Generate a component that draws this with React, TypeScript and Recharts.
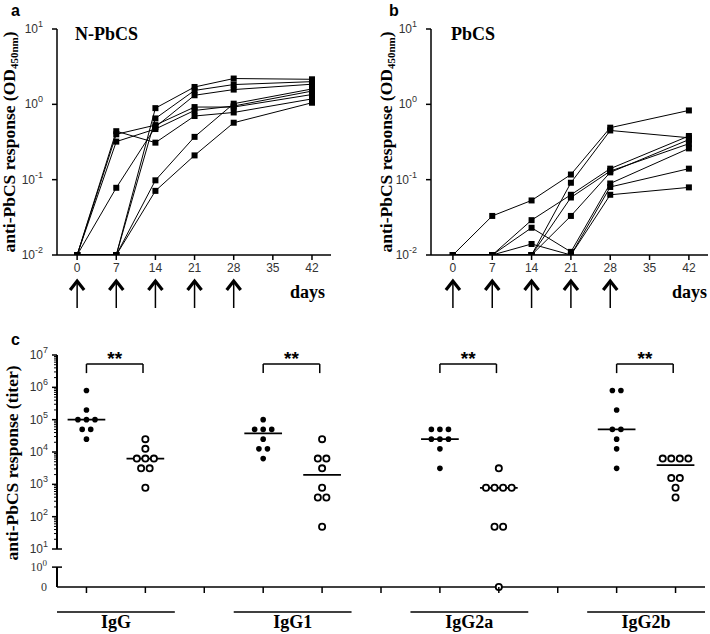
import React from 'react';
import { LineChart, Line, XAxis, YAxis, ScatterChart, Scatter, ReferenceLine } from 'recharts';

const days = [0, 7, 14, 21, 28, 42];
const dayTicks = [0, 7, 14, 21, 28, 35, 42];
const boostDays = [0, 7, 14, 21, 28];
const odTicks = [0.01, 0.1, 1, 10];

// a: mice immunized with N-PbCS, OD450 per bleed day
const npbcsMouse1 = [0.01, 0.44, 0.31, 0.7, 0.78, 1.18];
const npbcsMouse2 = [0.01, 0.4, 0.53, 0.92, 0.92, 1.35];
const npbcsMouse3 = [0.01, 0.32, 0.47, 0.83, 0.95, 1.5];
const npbcsMouse4 = [0.01, 0.078, 0.5, 1.32, 1.57, 1.85];
const npbcsMouse5 = [0.01, 0.01, 0.89, 1.7, 2.2, 2.15];
const npbcsMouse6 = [0.01, 0.01, 0.65, 1.53, 1.83, 2.0];
const npbcsMouse7 = [0.01, 0.01, 0.098, 0.37, 1.02, 1.6];
const npbcsMouse8 = [0.01, 0.01, 0.071, 0.21, 0.57, 1.05];

// b: mice immunized with PbCS
const pbcsMouse1 = [0.01, 0.033, 0.053, 0.117, 0.49, 0.83];
const pbcsMouse2 = [0.01, 0.01, 0.01, 0.091, 0.45, 0.36];
const pbcsMouse3 = [0.01, 0.01, 0.029, 0.063, 0.14, 0.38];
const pbcsMouse4 = [0.01, 0.01, 0.01, 0.058, 0.13, 0.3];
const pbcsMouse5 = [0.01, 0.01, 0.01, 0.033, 0.125, 0.34];
const pbcsMouse6 = [0.01, 0.01, 0.023, 0.011, 0.089, 0.26];
const pbcsMouse7 = [0.01, 0.01, 0.014, 0.01, 0.08, 0.14];
const pbcsMouse8 = [0.01, 0.01, 0.01, 0.01, 0.063, 0.079];

// c: end-point titers per isotype (filled = N-PbCS, open = PbCS)
const isotypes = ['IgG', 'IgG1', 'IgG2a', 'IgG2b'];
const igGNpbcs = [800000, 200000, 100000, 100000, 100000, 50000, 50000, 25000];
const igGPbcs = [25000, 12500, 6250, 6250, 6250, 3125, 3125, 781];
const igG1Npbcs = [100000, 50000, 50000, 50000, 25000, 12500, 12500, 6250];
const igG1Pbcs = [25000, 6250, 6250, 3125, 781, 390, 390, 49];
const igG2aNpbcs = [50000, 50000, 50000, 25000, 25000, 25000, 12500, 3125];
const igG2aPbcs = [3125, 781, 781, 781, 781, 49, 49, 0];
const igG2bNpbcs = [800000, 800000, 200000, 50000, 50000, 25000, 12500, 3125];
const igG2bPbcs = [6250, 6250, 6250, 6250, 1562, 1562, 781, 390];

const npbcsGroups = [igGNpbcs, igG1Npbcs, igG2aNpbcs, igG2bNpbcs];
const pbcsGroups = [igGPbcs, igG1Pbcs, igG2aPbcs, igG2bPbcs];

const npbcsMice = [npbcsMouse1, npbcsMouse2, npbcsMouse3, npbcsMouse4, npbcsMouse5, npbcsMouse6, npbcsMouse7, npbcsMouse8];
const pbcsMice = [pbcsMouse1, pbcsMouse2, pbcsMouse3, pbcsMouse4, pbcsMouse5, pbcsMouse6, pbcsMouse7, pbcsMouse8];

const toRows = (mice: number[][]) =>
  days.map((day, i) => {
    const row: any = { day };
    mice.forEach((m, k) => (row['m' + k] = m[i]));
    return row;
  });

const rowsA = toRows(npbcsMice);
const rowsB = toRows(pbcsMice);

// broken log axis for panel c: 10^1..10^7 log, then 10^0 and 0 below the break
const ZERO_T = -0.175;
const ONE_T = 0.44;
const toT = (v: number) => (v <= 0 ? ZERO_T : Math.log10(v));
const median = (vals: number[]) => {
  const s = [...vals].sort((a, b) => a - b);
  const n = s.length;
  return n % 2 ? s[(n - 1) / 2] : (s[n / 2 - 1] + s[n / 2]) / 2;
};

const SPREAD = 0.145;
const swarm = (vals: number[], center: number) => {
  const counts: Record<number, number> = {};
  vals.forEach((v) => (counts[v] = (counts[v] || 0) + 1));
  const seen: Record<number, number> = {};
  return vals.map((v) => {
    const i = seen[v] || 0;
    seen[v] = i + 1;
    return { x: center + (i - (counts[v] - 1) / 2) * SPREAD, t: toT(v) };
  });
};

const filledPts = npbcsGroups.flatMap((g, i) => swarm(g, i * 3));
const openPts = pbcsGroups.flatMap((g, i) => swarm(g, i * 3 + 1));

const majorT = [1, 2, 3, 4, 5, 6, 7];
const minorT: number[] = [];
for (let n = 1; n < 7; n++) for (let k = 2; k < 10; k++) minorT.push(n + Math.log10(k));
const titerTicks = [ZERO_T, ONE_T, ...majorT, ...minorT];
const catTicks = Array.from({ length: 11 }, (_, i) => i);

const BRACKET_T = 6.72;
const BRACKET_DROP = 0.28;
const UNIT_PX = 648 / 11;

const sans = 'Liberation Sans, Arial, sans-serif';
const serif = 'Liberation Serif, Times New Roman, serif';

const SquareDot = (props: any) => {
  const { cx, cy } = props;
  if (cx == null || cy == null) return <g />;
  return <rect x={cx - 3} y={cy - 3} width={6} height={6} fill="#000" />;
};

const PowTick = (props: any) => {
  const { x, y, payload } = props;
  const e = Math.round(Math.log10(payload.value));
  return (
    <g>
      <line x1={x - 5} x2={x} y1={y} y2={y} stroke="#000" strokeWidth={1.5} />
      <text x={x - 14} y={y + 4} textAnchor="end" fontSize={12} fill="#333" fontFamily={sans}>
        10<tspan dy={-6} fontSize={9}>{e}</tspan>
      </text>
    </g>
  );
};

const DayTick = (props: any) => {
  const { x, y, payload } = props;
  const boosted = boostDays.includes(payload.value);
  return (
    <g>
      <line x1={x} x2={x} y1={y} y2={y + 5} stroke="#000" strokeWidth={1.5} />
      <text x={x} y={y + 17} textAnchor="middle" fontSize={12} fill="#333" fontFamily={sans}>
        {payload.value}
      </text>
      {boosted && (
        <g stroke="#000" fill="none">
          <polyline points={`${x - 7},${y + 35} ${x},${y + 26} ${x + 7},${y + 35}`} strokeWidth={3.2} />
          <line x1={x} x2={x} y1={y + 27} y2={y + 53} strokeWidth={1.5} />
        </g>
      )}
    </g>
  );
};

const TiterTick = (props: any) => {
  const { x, y, payload } = props;
  const t = payload.value;
  if (t === ZERO_T || t === ONE_T) {
    return (
      <g>
        {t === ONE_T && <line x1={x - 5} x2={x + 5} y1={y} y2={y} stroke="#000" strokeWidth={1.5} />}
        <text x={x - 10} y={y + 4} textAnchor="end" fontSize={12} fill="#333" fontFamily={serif}>
          {t === ZERO_T ? '0' : '10'}
          {t === ONE_T && <tspan dy={-5} fontSize={9}>0</tspan>}
        </text>
      </g>
    );
  }
  if (Number.isInteger(t)) {
    return (
      <g>
        <line x1={x - 5} x2={t === 1 ? x + 5 : x} y1={y} y2={y} stroke="#000" strokeWidth={1.5} />
        <text x={x - 9} y={y + 4} textAnchor="end" fontSize={12} fill="#333" fontFamily={sans}>
          10<tspan dy={-6} fontSize={9}>{t}</tspan>
        </text>
      </g>
    );
  }
  return <line x1={x - 3} x2={x} y1={y} y2={y} stroke="#000" strokeWidth={1} />;
};

const CatTick = (props: any) => {
  const { x, y, payload } = props;
  const i = payload.value;
  const g = i % 3 === 0 ? isotypes[i / 3] : null;
  return (
    <g>
      <line x1={x} x2={x} y1={y} y2={y + 6} stroke="#000" strokeWidth={1.5} />
      {g && (
        <g>
          <line x1={x - 0.5 * UNIT_PX} x2={x + 1.5 * UNIT_PX} y1={y + 25} y2={y + 25} stroke="#000" strokeWidth={1.5} />
          <text x={x + 0.5 * UNIT_PX} y={y + 41} textAnchor="middle" fontSize={18} fontWeight="bold" fill="#000" fontFamily={serif}>
            {g}
          </text>
        </g>
      )}
    </g>
  );
};

const FilledDot = (p: any) => <circle cx={p.cx} cy={p.cy} r={2.8} fill="#000" />;
const OpenDot = (p: any) => <circle cx={p.cx} cy={p.cy} r={3.1} fill="#fff" stroke="#000" strokeWidth={1.8} />;

const OdPanel = ({ rows, left, marginLeft }: { rows: any[]; left: number; marginLeft: number }) => (
  <div style={{ position: 'absolute', left, top: 0 }}>
    <LineChart width={left === 0 ? 345 : 360} height={315} data={rows} margin={{ top: 29, right: left === 0 ? 14 : 2, bottom: 30, left: marginLeft }}>
      <XAxis
        dataKey="day"
        type="number"
        domain={left === 0 ? [-3.6, 45.4] : [-3.9, 45.4]}
        ticks={dayTicks}
        interval={0}
        tickSize={0}
        tickMargin={0}
        tick={<DayTick />}
        axisLine={{ stroke: '#000', strokeWidth: 1.5 }}
        height={30}
      />
      <YAxis
        type="number"
        scale="log"
        domain={[0.01, 10]}
        ticks={odTicks}
        interval={0}
        allowDataOverflow
        tickSize={0}
        tickMargin={0}
        tick={<PowTick />}
        axisLine={{ stroke: '#000', strokeWidth: 1.5 }}
        width={50}
      />
      {npbcsMice.map((_, k) => (
        <Line
          key={k}
          dataKey={'m' + k}
          stroke="#000"
          strokeWidth={1}
          dot={SquareDot}
          activeDot={false}
          isAnimationActive={false}
        />
      ))}
    </LineChart>
  </div>
);

export default function App() {
  return (
    <div style={{ position: 'absolute', left: 0, top: 0, width: 710, height: 634, background: '#fff' }}>
      <OdPanel rows={rowsA} left={0} marginLeft={7} />
      <OdPanel rows={rowsB} left={350} marginLeft={31} />

      <div style={{ position: 'absolute', left: 0, top: 320 }}>
        <ScatterChart width={710} height={314} margin={{ top: 35, right: 5, bottom: 27, left: 7 }}>
          <XAxis
            dataKey="x"
            type="number"
            domain={[-0.5, 10.5]}
            ticks={catTicks}
            interval={0}
            tickSize={0}
            tickMargin={0}
            tick={<CatTick />}
            axisLine={{ stroke: '#000', strokeWidth: 1.5 }}
            height={20}
          />
          <YAxis
            dataKey="t"
            type="number"
            domain={[ZERO_T, 7]}
            ticks={titerTicks}
            interval={0}
            tickSize={0}
            tickMargin={0}
            tick={<TiterTick />}
            axisLine={false}
            width={50}
          />
          <ReferenceLine segment={[{ x: -0.5, y: 1 }, { x: -0.5, y: 7 }]} stroke="#000" strokeWidth={2} ifOverflow="visible" />
          <ReferenceLine segment={[{ x: -0.5, y: ZERO_T }, { x: -0.5, y: ONE_T }]} stroke="#000" strokeWidth={2} ifOverflow="visible" />
          {npbcsGroups.map((g, i) => (
            <ReferenceLine
              key={'mf' + i}
              segment={[{ x: i * 3 - 0.32, y: toT(median(g)) }, { x: i * 3 + 0.32, y: toT(median(g)) }]}
              stroke="#000"
              strokeWidth={1.8}
            />
          ))}
          {pbcsGroups.map((g, i) => (
            <ReferenceLine
              key={'mo' + i}
              segment={[{ x: i * 3 + 1 - 0.32, y: toT(median(g)) }, { x: i * 3 + 1 + 0.32, y: toT(median(g)) }]}
              stroke="#000"
              strokeWidth={1.8}
            />
          ))}
          {isotypes.map((_, i) => (
            <ReferenceLine
              key={'bt' + i}
              segment={[{ x: i * 3, y: BRACKET_T }, { x: i * 3 + 0.96, y: BRACKET_T }]}
              stroke="#000"
              strokeWidth={1.5}
              label={{ value: '**', position: 'top', offset: -1, fontSize: 19, fontWeight: 'bold', fill: '#000', fontFamily: sans }}
            />
          ))}
          {isotypes.map((_, i) => (
            <ReferenceLine
              key={'bl' + i}
              segment={[{ x: i * 3, y: BRACKET_T }, { x: i * 3, y: BRACKET_T - BRACKET_DROP }]}
              stroke="#000"
              strokeWidth={1.5}
            />
          ))}
          {isotypes.map((_, i) => (
            <ReferenceLine
              key={'br' + i}
              segment={[{ x: i * 3 + 0.96, y: BRACKET_T }, { x: i * 3 + 0.96, y: BRACKET_T - BRACKET_DROP }]}
              stroke="#000"
              strokeWidth={1.5}
            />
          ))}
          <Scatter data={filledPts} shape={FilledDot} isAnimationActive={false} />
          <Scatter data={openPts} shape={OpenDot} isAnimationActive={false} />
        </ScatterChart>
      </div>

      <svg style={{ position: 'absolute', left: 0, top: 0, pointerEvents: 'none' }} width={710} height={634}>
        <g fontFamily={sans} fontWeight="bold" fontSize={16} fill="#000">
          <text x={11} y={16}>a</text>
          <text x={389} y={16}>b</text>
          <text x={11} y={345}>c</text>
        </g>
        <g fontFamily={serif} fontWeight="bold" fill="#000">
          <text x={75} y={40} fontSize={18}>N-PbCS</text>
          <text x={451} y={40} fontSize={18}>PbCS</text>
          <text x={290} y={298} fontSize={18}>days</text>
          <text x={672} y={298} fontSize={18}>days</text>
          <text x={15} y={142} fontSize={17.5} textAnchor="middle" transform="rotate(-90, 15, 142)">
            anti-PbCS response (OD<tspan fontSize={11} dy={3}>450nm</tspan><tspan dy={-3}>)</tspan>
          </text>
          <text x={392} y={142} fontSize={17.5} textAnchor="middle" transform="rotate(-90, 392, 142)">
            anti-PbCS response (OD<tspan fontSize={11} dy={3}>450nm</tspan><tspan dy={-3}>)</tspan>
          </text>
          <text x={18} y={463} fontSize={17.5} textAnchor="middle" transform="rotate(-90, 18, 463)">
            anti-PbCS response (titer)
          </text>
        </g>
      </svg>
    </div>
  );
}
